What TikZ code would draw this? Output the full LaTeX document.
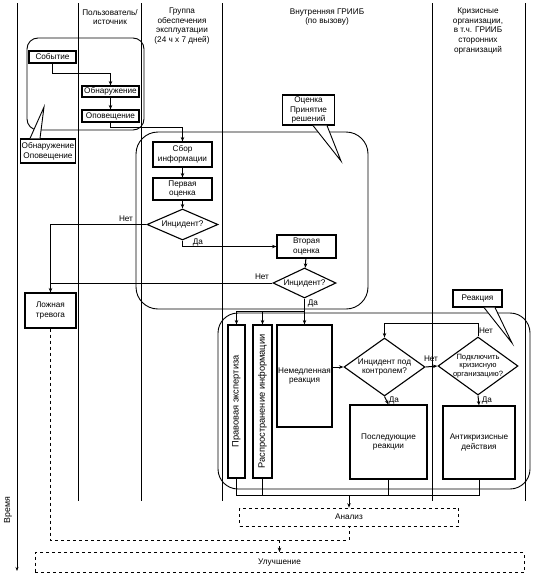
\documentclass[tikz,border=0pt]{standalone}
\usepackage{fontspec}
\setmainfont{Liberation Sans}
\usetikzlibrary{shapes.geometric,arrows.meta}
\begin{document}
\begin{tikzpicture}[x=1pt,y=-1pt,
  every node/.style={font=\fontsize{8.2}{9.8}\selectfont},
  box/.style={draw,line width=1.1pt,fill=white,align=center,inner sep=1pt},
  dia/.style={draw,diamond,line width=1.1pt,align=center,inner sep=0pt,fill=white},
  grp/.style={draw,line width=0.9pt,inner sep=0pt},
  dbox/.style={draw,dashed,line width=0.7pt,inner sep=0pt},
  lane/.style={line width=0.7pt},
  conn/.style={line width=1pt},
  arr/.style={conn,-{Stealth[length=4.5pt,width=3.5pt]}},
  dline/.style={dashed,line width=0.7pt},
  darr/.style={dashed,line width=0.7pt,-{Stealth[length=4.5pt,width=3.5pt]}},
  lbl/.style={inner sep=1pt},
  hdr/.style={align=center,inner sep=0pt},
  vtxt/.style={rotate=90,inner sep=0pt,font=\fontsize{9.3}{10}\selectfont},
]
\useasboundingbox (0,0) rectangle (539,576);

% lanes
\draw[lane,-{Stealth[length=4pt,width=3pt]}] (17,3) -- (17,571);
\foreach \lx in {78,141,222,432,525} {\draw[lane] (\lx,3) -- (\lx,501);}

% headers
\node[hdr] (h1) at (110,17) {Пользователь/\\источник};
\node[hdr] (h2) at (182,26) {Группа\\обеспечения\\эксплуатации\\(24 ч x 7 дней)};
\node[hdr] (h3) at (327,17) {Внутренняя ГРИИБ\\(по вызову)};
\node[hdr] (h4) at (478,31) {Кризисные\\организации,\\в т.ч. ГРИИБ\\сторонних\\организаций};
\node[rotate=90,inner sep=0pt,font=\fontsize{8.8}{10}\selectfont] (time) at (8,510) {Время};

% groups
\node[grp,rounded corners=11pt,minimum width=117pt,minimum height=92pt] (g1) at (85.5,84) {};
\node[grp,rounded corners=22pt,minimum width=232pt,minimum height=177pt] (g2) at (252,220.5) {};
\node[grp,rounded corners=20pt,minimum width=312pt,minimum height=176pt] (g3) at (374,401) {};

% callouts
\node[box,minimum width=53pt,minimum height=24pt] (cobn) at (48,151) {Обнаружение\\Оповещение};
\node[box,minimum width=52pt,minimum height=30pt] (cots) at (308.5,110) {Оценка\\Принятие\\решений};
\node[box,minimum width=49pt,minimum height=17pt] (creak) at (477.5,298.5) {Реакция};
\coordinate (t1) at (44,107);
\coordinate (t2) at (341,161);
\coordinate (t3) at (512,343);
\fill[white] ([xshift=-18pt]cobn.south |- cobn.north) -- (t1) -- ([xshift=-8pt]cobn.south |- cobn.north) -- cycle;
\draw[line width=0.9pt] ([xshift=-18pt]cobn.south |- cobn.north) -- (t1) -- ([xshift=-8pt]cobn.south |- cobn.north);
\fill[white] ([xshift=4.5pt]cots.south) -- (t2) -- ([xshift=18.5pt]cots.south) -- cycle;
\draw[line width=0.9pt] ([xshift=4.5pt]cots.south) -- (t2) -- ([xshift=18.5pt]cots.south);
\fill[white] ([xshift=6.5pt]creak.south) -- (t3) -- ([xshift=17.5pt]creak.south) -- cycle;
\draw[line width=0.9pt] ([xshift=6.5pt]creak.south) -- (t3) -- ([xshift=17.5pt]creak.south);

% nodes
\node[box,minimum width=47pt,minimum height=12pt] (sob) at (52.5,57) {Событие};
\node[box,minimum width=57pt,minimum height=11pt] (obn) at (110.5,91.5) {Обнаружение};
\node[box,minimum width=57pt,minimum height=12pt] (opo) at (110.5,116) {Оповещение};
\node[box,minimum width=59pt,minimum height=25pt] (sbor) at (182.5,154.5) {Сбор\\информации};
\node[box,minimum width=59pt,minimum height=22pt] (perv) at (182.5,189) {Первая\\оценка};
\node[dia,aspect=2.3,minimum width=71pt,minimum height=31pt] (d1) at (182.5,224.5) {Инцидент?};
\node[box,minimum width=59pt,minimum height=23pt] (vtor) at (306.5,246.5) {Вторая\\оценка};
\node[dia,aspect=2.1,minimum width=63pt,minimum height=30pt] (d2) at (304.5,283) {Инцидент?};
\node[box,minimum width=51pt,minimum height=35pt] (lozh) at (50.5,310.5) {Ложная\\тревога};
\node[box,minimum width=17pt,minimum height=153pt] (prav) at (236.5,401.5) {};
\node[vtxt] (pravt) at (prav.center) {Правовая экспертиза};
\node[box,minimum width=19pt,minimum height=153pt] (rasp) at (262.5,401.5) {};
\node[vtxt] (raspt) at (rasp.center) {Распространение информации};
\node[box,minimum width=55pt,minimum height=102pt] (nem) at (304.5,376) {Немедленная\\реакция};
\node[dia,aspect=1.4,minimum width=81pt,minimum height=58pt] (d3) at (384.5,367) {Инцидент под\\контролем?};
\node[dia,aspect=1.4,inner sep=-3pt,minimum width=80pt,minimum height=58pt,font=\fontsize{7.6}{8.6}\selectfont] (d4) at (478,366) {Подключить\\кризисную\\организацию?};
\node[box,minimum width=77pt,minimum height=74pt] (posl) at (388.5,442) {Последующие\\реакции};
\node[box,minimum width=72pt,minimum height=73pt] (anti) at (479,442.5) {Антикризисные\\действия};
\node[dbox,minimum width=219pt,minimum height=18pt] (anal) at (349,517) {Анализ};
\node[dbox,minimum width=489pt,minimum height=20pt] (ulu) at (279.5,562.5) {Улучшение};

% connectors
\draw[arr] (sob.south) -- ++(0,9.5) -| (obn.north);
\draw[arr] (obn) -- (opo);
\draw[arr] (opo.south) -- ++(0,5) -| (sbor.north);
\draw[arr] (sbor) -- (perv);
\draw[arr] (perv) -- (d1);
\draw[arr] (d1.west) -| (lozh.north);
\draw[arr] (d1.south) |- (vtor.west);
\draw[arr] (vtor) -- (d2);
\draw[conn] (d2.west) -- (lozh.north |- d2.west);
\coordinate (split) at (304.5,311);
\draw[arr] (d2.south) -- (nem.north);
\draw[arr] (split) -| (prav.north);
\draw[arr] (rasp.north |- split) -- (rasp.north);
\draw[arr] (nem.east |- d3.west) -- (d3.west);
\draw[arr] (d3.east) -- (d4.west);
\draw[arr] (d4.north) -- ++(0,-13) -| (d3.north);
\draw[arr] (d3.south) -- (posl.north);
\draw[arr] (d4.south) -- (anti.north);
\coordinate (m) at (349,495);
\draw[conn] (prav.south) -- (prav.south |- m) -- (anti.south |- m) -- (anti.south);
\draw[conn] (rasp.south) -- (rasp.south |- m);
\draw[conn] (posl.south) -- (posl.south |- m);
\draw[arr] (m) -- (anal.north);
\coordinate (j) at (349,540);
\draw[dline] (lozh.south) -- (lozh.south |- j) -- (j) -- (anal.south);
\draw[darr] (ulu.north |- j) -- (ulu.north);

% labels
\node[lbl] (n1) at (126,219) {Нет};
\node[lbl] (y1) at (198,242) {Да};
\node[lbl] (n2) at (262,277) {Нет};
\node[lbl] (y2) at (313,303) {Да};
\node[lbl] (n3) at (431,359) {Нет};
\node[lbl] (n4) at (486,331) {Нет};
\node[lbl] (y3) at (394,400) {Да};
\node[lbl] (y4) at (487,400) {Да};
\end{tikzpicture}
\end{document}
